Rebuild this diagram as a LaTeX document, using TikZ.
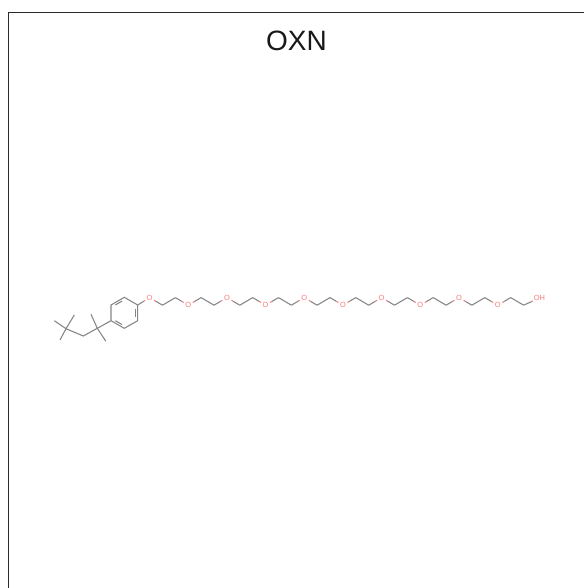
\documentclass[tikz,border=0pt]{standalone}
\usepackage{fontspec}
\setmainfont{Liberation Sans}
\usetikzlibrary{calc}
\definecolor{bondgrey}{HTML}{858585}
\definecolor{oxred}{HTML}{F47C7C}
\definecolor{framegrey}{HTML}{2B2B2B}
\tikzset{
  bond/.style={draw=bondgrey,line width=0.8pt},
  obond/.style={draw=oxred,line width=0.8pt},
  oxygen/.style={text=oxred,font=\fontsize{5.6}{6}\selectfont,inner sep=0.6pt,circle,minimum size=5.5pt},
  titletext/.style={text=black!90,font=\fontsize{21}{24}\selectfont,inner sep=0pt},
  framerule/.style={draw=framegrey,line width=0.85pt}
}
\newcommand{\hetbond}[2]{%
  \draw[obond] (#1) -- ($(#1)!.5!(#2)$);
  \draw[bond] ($(#1)!.5!(#2)$) -- (#2);}
\begin{document}
\begin{tikzpicture}[x=0.75pt,y=-0.75pt]
\useasboundingbox (0,0) rectangle (584,588);
\draw[framerule] (8.5,588) -- (8.5,12.5) -- (584,12.5);
\node[titletext] (title) at (296.5,40.5) {OXN};
% alkyl part
\coordinate (m1) at (54.3,320.7);
\coordinate (m2) at (74.3,315);
\coordinate (m3) at (60,340);
\coordinate (q1) at (66,328.7);
\coordinate (ch) at (83.3,336);
\coordinate (q2) at (97.3,328.3);
\coordinate (m4) at (91,314.3);
\coordinate (m5) at (105.7,341);
\draw[bond] (m1) -- (q1) (m2) -- (q1) (m3) -- (q1) (q1) -- (ch) -- (q2) (m4) -- (q2) (m5) -- (q2);
% ring
\coordinate (r1) at (111,320.7);
\coordinate (r2) at (111,305);
\coordinate (r3) at (124.3,297.3);
\coordinate (r4) at (137.7,305);
\coordinate (r5) at (137.7,320.7);
\coordinate (r6) at (124.3,328.3);
\draw[bond] (q2) -- (r1);
\draw[bond] (r1) -- (r2) -- (r3) -- (r4) -- (r5) -- (r6) -- (r1);
\coordinate (rc) at (124.3,312.8);
\draw[bond] ($(r2)!.2!(r3)!.16!(rc)$) -- ($(r2)!.8!(r3)!.16!(rc)$);
\draw[bond] ($(r4)!.2!(r5)!.16!(rc)$) -- ($(r4)!.8!(r5)!.16!(rc)$);
\draw[bond] ($(r6)!.2!(r1)!.16!(rc)$) -- ($(r6)!.8!(r1)!.16!(rc)$);
% PEG chain
\foreach \i/\xo/\yo/\yc/\yd in {1/149.6/297.6/305.2/297.6,2/188.2/305.2/297.6/305.2,3/226.9/297.6/305.2/297.6,4/265.6/305.2/297.6/305.2,5/304.2/297.6/305.2/297.6,6/342.9/305.2/297.6/305.2,7/381.6/297.6/305.2/297.6,8/420.3/305.2/297.6/305.2,9/459/297.6/305.2/297.6,10/497.8/305.2/297.6/305.2}{
  \node[oxygen] (o\i) at (\xo,\yo) {O};
  \coordinate (c\i) at ({\xo+12.9},\yc);
  \coordinate (d\i) at ({\xo+25.8},\yd);
  \hetbond{o\i}{c\i}
  \draw[bond] (c\i) -- (d\i);
}
\hetbond{o1}{r4}
\foreach \a/\b in {1/2,2/3,3/4,4/5,5/6,6/7,7/8,8/9,9/10}{
  \hetbond{o\b}{d\a}
}
\node[oxygen,inner sep=0.4pt] (oh) at (539.5,298) {OH};
\hetbond{oh}{d10}
\end{tikzpicture}
\end{document}
